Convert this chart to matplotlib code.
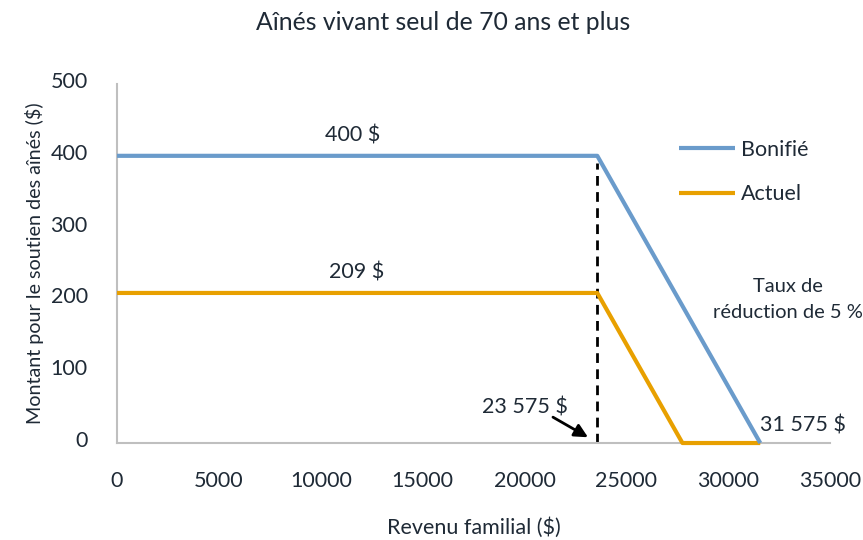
import matplotlib
matplotlib.use("Agg")
import matplotlib.pyplot as plt
import matplotlib.transforms as mtransforms

plt.rcParams['font.family'] = ['Lato', 'DejaVu Sans']

bonifie_x = [0, 23575, 31575]
bonifie_y = [400, 400, 0]
actuel_x = [0, 23575, 27755, 31575]
actuel_y = [209, 209, 0, 0]
seuil = 23575
fin = 31575
x_ticks = [0, 5000, 10000, 15000, 20000, 25000, 30000, 35000]
y_ticks = [0, 100, 200, 300, 400, 500]

blue = '#6A9BCB'
orange = '#E8A000'
txt = '#1F2A36'
grey = '#BFBFBF'

fig = plt.figure(figsize=(8.63, 5.4), dpi=100)
ax = fig.add_axes([0.1356, 0.1796, 0.8262, 0.6648])

ax.plot(bonifie_x, bonifie_y, color=blue, lw=3, label='Bonifié',
        solid_capstyle='butt', clip_on=False, zorder=4)
ax.plot(actuel_x, actuel_y, color=orange, lw=3, label='Actuel',
        solid_capstyle='butt', clip_on=False, zorder=3)
ax.plot([seuil, seuil], [0, 390], color='black', lw=2, ls=(0, (3.5, 2.3)), zorder=2)

ax.set_xlim(0, 35000)
ax.set_ylim(0, 500)
ax.set_xticks(x_ticks)
ax.set_yticks(y_ticks)
ax.tick_params(length=0, labelsize=15.5, colors=txt)
ax.tick_params(axis='x', pad=20)
ax.tick_params(axis='y', pad=21)
offset = mtransforms.ScaledTranslation(0, 4 / 100, fig.dpi_scale_trans)
for lab in ax.get_yticklabels():
    lab.set_transform(lab.get_transform() + offset)
for s in ['top', 'right']:
    ax.spines[s].set_visible(False)
for s in ['left', 'bottom']:
    ax.spines[s].set_color(grey)
    ax.spines[s].set_linewidth(1.5)

ax.set_xlabel('Revenu familial ($)', fontsize=15.5, color=txt, labelpad=19)
ax.set_ylabel('Montant pour le soutien des aînés ($)', fontsize=14.2, color=txt)
ax.yaxis.set_label_coords(-0.1024, 0.5)
fig.text(0.5133, 0.958, 'Aînés vivant seul de 70 ans et plus', ha='center', va='center',
         fontsize=17.8, color=txt)

ax.text(11585, 429, '400 $', ha='center', va='center', fontsize=15.5, color=txt)
ax.text(11780, 238, '209 $', ha='center', va='center', fontsize=15.5, color=txt)
ax.text(31565, 25, '31 575 $', ha='left', va='center', fontsize=15.5, color=txt)
ax.text(32940, 200, 'Taux de\nréduction de 5 %', ha='center', va='center',
        fontsize=14.5, color=txt, linespacing=1.6)
ax.text(20030, 50, '23 575 $', ha='center', va='center', fontsize=15.5, color=txt)
ax.annotate('', xy=(23120, 8), xytext=(21400, 36),
            arrowprops=dict(arrowstyle='-|>', color='black', lw=2,
                            mutation_scale=20, shrinkA=0, shrinkB=0))

leg = ax.legend(loc='center left', bbox_to_anchor=(0.7616, 0.755), frameon=False,
                fontsize=15.5, handlelength=2.6, handletextpad=0.25, labelspacing=1.15)
for t in leg.get_texts():
    t.set_color(txt)

fig.savefig('out.png', dpi=100)
